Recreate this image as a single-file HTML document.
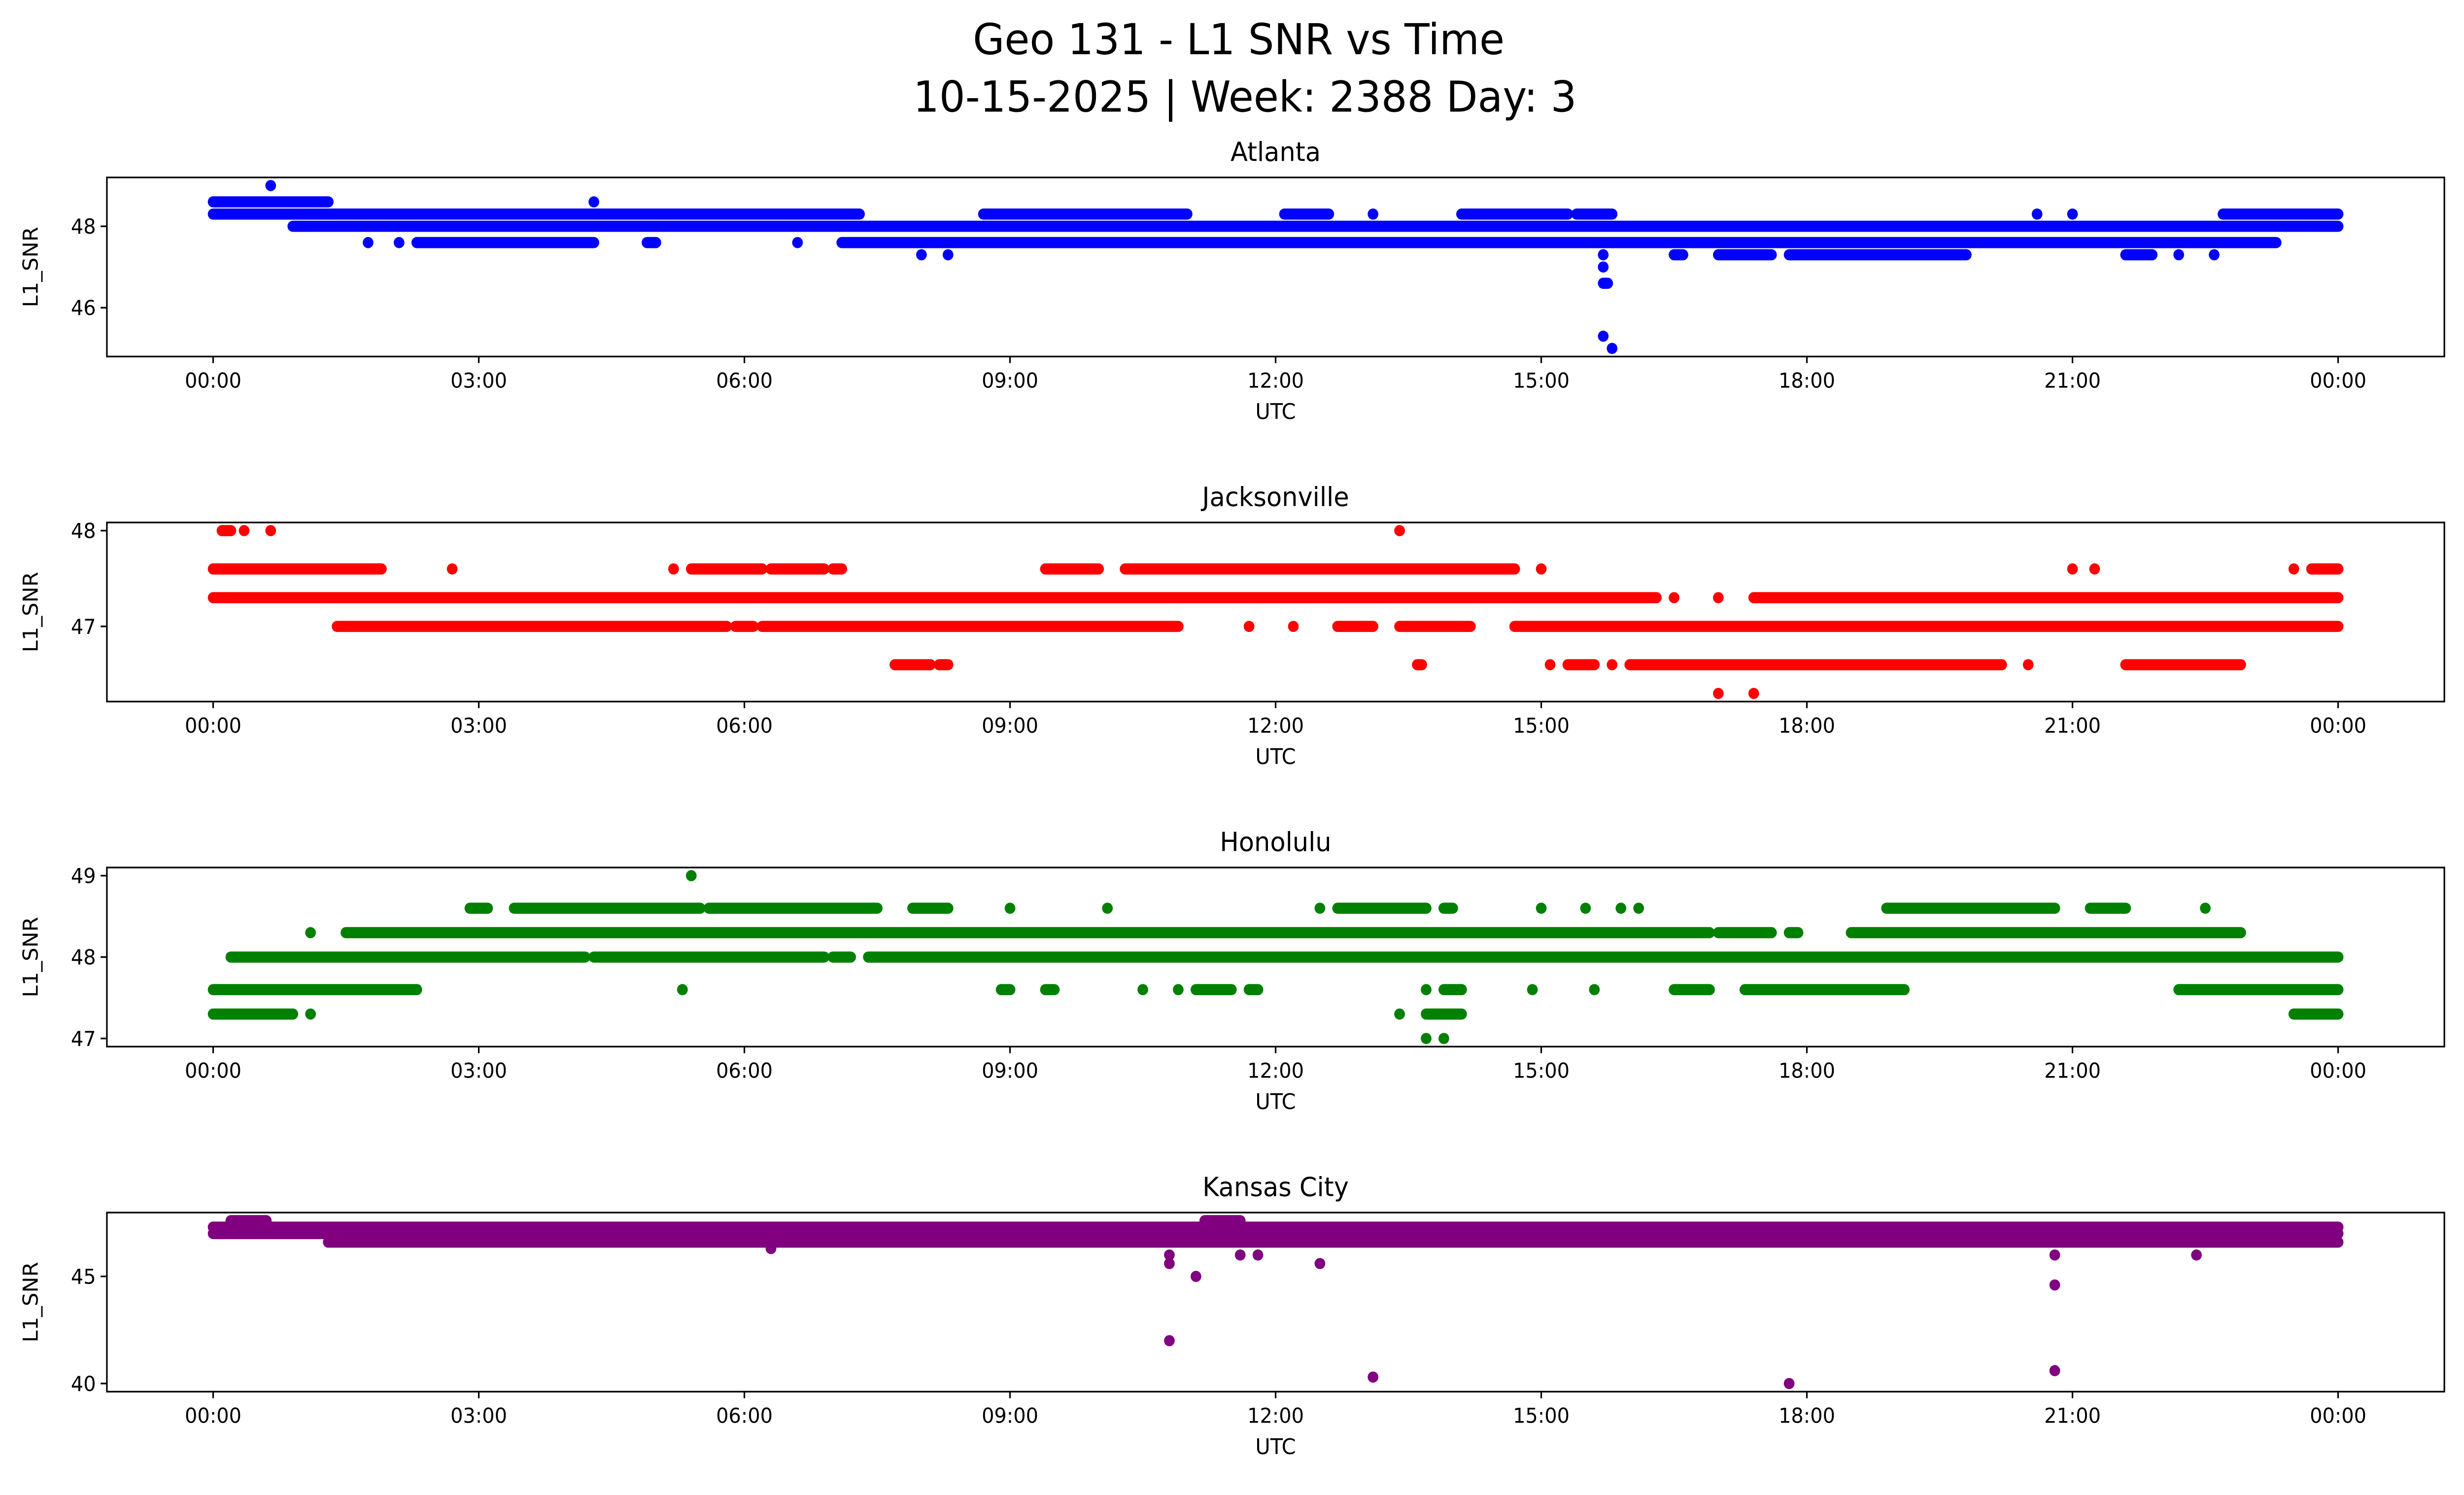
<!DOCTYPE html>
<html><head><meta charset="utf-8"><style>
html,body{margin:0;padding:0;background:#fff;overflow:hidden;width:100%;height:100%}
svg{display:block;width:100vw;height:100vh;font-family:"DejaVu Sans","Liberation Sans",sans-serif}
</style></head><body>
<svg id="fig" viewBox="0 0 1567.5 909.9" preserveAspectRatio="none" xmlns="http://www.w3.org/2000/svg">
<rect width="1567.5" height="909.9" fill="#fff"/>
<text x="788" y="33" font-size="26" text-anchor="middle">Geo 131 - L1 SNR vs Time</text>
<text x="792" y="68" font-size="26" text-anchor="middle">10-15-2025 | Week: 2388 Day: 3</text>
<g id="panels"></g>
</svg>
<script>
// Bands: [startHour, endHour, value]; single points have start == end
const atlantaBands = [[0,1.3,48.6],[4.3,4.3,48.6],[0.65,0.65,49.0],[0,7.3,48.3],[8.7,11.0,48.3],[12.1,12.6,48.3],[13.1,13.1,48.3],[14.1,15.3,48.3],[15.4,15.8,48.3],[20.6,20.6,48.3],[21.0,21.0,48.3],[22.7,24,48.3],[0.9,24,48.0],[1.75,1.75,47.6],[2.1,2.1,47.6],[2.3,4.3,47.6],[4.9,5.0,47.6],[6.6,6.6,47.6],[7.1,23.3,47.6],[8.0,8.0,47.3],[8.3,8.3,47.3],[15.7,15.7,47.3],[16.5,16.6,47.3],[17.0,17.6,47.3],[17.8,19.8,47.3],[21.6,21.9,47.3],[22.2,22.2,47.3],[22.6,22.6,47.3],[15.7,15.7,47.0],[15.7,15.75,46.6],[15.7,15.7,45.3],[15.8,15.8,45.0]];
const jacksonvilleBands = [[0.1,0.2,48.0],[0.35,0.35,48.0],[0.65,0.65,48.0],[13.4,13.4,48.0],[0,1.9,47.6],[2.7,2.7,47.6],[5.2,5.2,47.6],[5.4,6.2,47.6],[6.3,6.9,47.6],[7.0,7.1,47.6],[9.4,10.0,47.6],[10.3,14.7,47.6],[15.0,15.0,47.6],[21.0,21.0,47.6],[21.25,21.25,47.6],[23.5,23.5,47.6],[23.7,24,47.6],[0,16.3,47.3],[16.5,16.5,47.3],[17.0,17.0,47.3],[17.4,24,47.3],[1.4,5.8,47.0],[5.9,6.1,47.0],[6.2,10.9,47.0],[11.7,11.7,47.0],[12.2,12.2,47.0],[12.7,13.1,47.0],[13.4,14.2,47.0],[14.7,24,47.0],[7.7,8.1,46.6],[8.2,8.3,46.6],[13.6,13.65,46.6],[15.1,15.1,46.6],[15.3,15.6,46.6],[15.8,15.8,46.6],[16.0,20.2,46.6],[20.5,20.5,46.6],[21.6,22.9,46.6],[17.0,17.0,46.3],[17.4,17.4,46.3]];
const honoluluBands = [[5.4,5.4,49.0],[2.9,3.1,48.6],[3.4,5.5,48.6],[5.6,7.5,48.6],[7.9,8.3,48.6],[9.0,9.0,48.6],[10.1,10.1,48.6],[12.5,12.5,48.6],[12.7,13.7,48.6],[13.9,14.0,48.6],[15.0,15.0,48.6],[15.5,15.5,48.6],[15.9,15.9,48.6],[16.1,16.1,48.6],[18.9,20.8,48.6],[21.2,21.6,48.6],[22.5,22.5,48.6],[1.1,1.1,48.3],[1.5,16.9,48.3],[17.0,17.6,48.3],[17.8,17.9,48.3],[18.5,22.9,48.3],[0.2,4.2,48.0],[4.3,6.9,48.0],[7.0,7.2,48.0],[7.4,24,48.0],[0,2.3,47.6],[5.3,5.3,47.6],[8.9,9.0,47.6],[9.4,9.5,47.6],[10.5,10.5,47.6],[10.9,10.9,47.6],[11.1,11.5,47.6],[11.7,11.8,47.6],[13.7,13.7,47.6],[13.9,14.1,47.6],[14.9,14.9,47.6],[15.6,15.6,47.6],[16.5,16.9,47.6],[17.3,19.1,47.6],[22.2,24,47.6],[0,0.9,47.3],[1.1,1.1,47.3],[13.4,13.4,47.3],[13.7,14.1,47.3],[23.5,24,47.3],[13.7,13.7,47.0],[13.9,13.9,47.0]];
const kansasBands = [[0.2,0.6,47.6],[11.2,11.6,47.6],[0,24,47.3],[0,24,47.0],[1.3,24,46.6],[6.3,6.3,46.3],[10.8,10.8,46.0],[11.6,11.6,46.0],[11.8,11.8,46.0],[20.8,20.8,46.0],[22.4,22.4,46.0],[10.8,10.8,45.6],[12.5,12.5,45.6],[11.1,11.1,45.0],[20.8,20.8,44.6],[10.8,10.8,42.0],[13.1,13.1,40.3],[17.8,17.8,40.0],[20.8,20.8,40.6]];
const panelNames = ["Atlanta","Jacksonville","Honolulu","Kansas City"];
const panelColors = ["#0000ff","#ff0000","#008000","#800080"];
const yRanges = [[44.8,49.2],[46.215,48.085],[46.9,49.1],[39.62,47.98]];
const yTicks = [[46,48],[47,48],[47,48,49],[40,45]];
const xTickHours = [0,3,6,9,12,15,18,21,24];
const xTickLabels = ["00:00","03:00","06:00","09:00","12:00","15:00","18:00","21:00","00:00"];
const allBands = [atlantaBands,jacksonvilleBands,honoluluBands,kansasBands];

const NS="http://www.w3.org/2000/svg";
const root=document.getElementById('panels');
const AX0=68, AX1=1555, panelTops=[108,318,528,738], PH=109;
const xPad=(AX1-AX0)/1.1*0.05;
function xScale(h){return AX0+xPad+h/24*((AX1-AX0)-2*xPad);}
function mk(tag,attrs,parent){const e=document.createElementNS(NS,tag);for(const k in attrs)e.setAttribute(k,attrs[k]);parent.appendChild(e);return e;}

allBands.forEach((bands,i)=>{
  const top=panelTops[i], bot=top+PH, [y0,y1]=yRanges[i];
  const yScale=v=>bot-(v-y0)/(y1-y0)*PH;
  const g=mk('g',{},root);
  
  
  const clipId='clip'+i;
  const cp=mk('clipPath',{id:clipId},g);
  mk('rect',{x:AX0,y:top,width:AX1-AX0,height:PH},cp);
  const marks=mk('g',{'clip-path':'url(#'+clipId+')'},g);
  
  
  bands.forEach(b=>{
    const ln=mk('line',{x1:xScale(b[0]),x2:xScale(b[1])+0.01,y1:yScale(b[2]),y2:yScale(b[2]),stroke:panelColors[i],'stroke-width':6.8,'stroke-linecap':'round'},marks);
    
    
  });
  const frame=mk('rect',{x:AX0,y:top,width:AX1-AX0,height:PH,fill:'none',stroke:'#000','stroke-width':1},g);
  
  
  xTickHours.forEach((h,k)=>{
    const x=xScale(h);
    mk('line',{x1:x,x2:x,y1:bot,y2:bot+4,stroke:'#000','stroke-width':1},g);
    const t=mk('text',{x:x,y:bot+19,'font-size':12.5,'text-anchor':'middle'},g);
    t.textContent=xTickLabels[k];
    
    
  });
  yTicks[i].forEach(v=>{
    const y=yScale(v);
    mk('line',{x1:AX0-4,x2:AX0,y1:y,y2:y,stroke:'#000','stroke-width':1},g);
    const t=mk('text',{x:AX0-7,y:y+4.5,'font-size':12.5,'text-anchor':'end'},g);
    t.textContent=String(v);
    
    
  });
  const xl=mk('text',{x:(AX0+AX1)/2,y:bot+38,'font-size':13,'text-anchor':'middle'},g);
  xl.textContent='UTC';
  
  
  const yl=mk('text',{x:0,y:0,'font-size':13,'text-anchor':'middle',transform:'translate(24,'+(top+PH/2)+') rotate(-90)'},g);
  yl.textContent='L1_SNR';
  
  
  const pt=mk('text',{x:(AX0+AX1)/2,y:top-10,'font-size':16,'text-anchor':'middle'},g);
  pt.textContent=panelNames[i];
  
  
});
</script>
</body></html>
